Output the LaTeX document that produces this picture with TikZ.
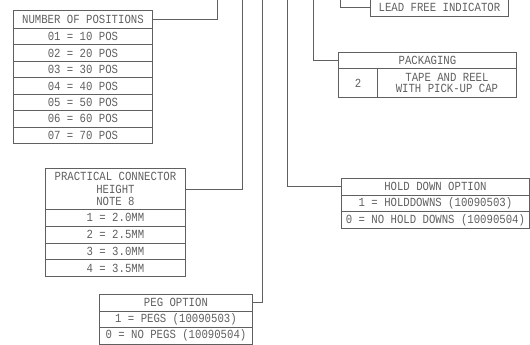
\documentclass[tikz,border=0pt]{standalone}
\usepackage{fontspec}
\setmonofont[FakeStretch=0.86]{Liberation Mono}
\definecolor{ln}{HTML}{606060}
\begin{document}
\begin{tikzpicture}[x=1pt,y=-1pt,
  cell/.style={draw=ln, line width=0.9pt, inner sep=0pt, anchor=north west,
    font=\ttfamily\fontsize{12.4}{12.5}\selectfont, text=ln, align=center},
  wire/.style={draw=ln, line width=0.8pt}]
\useasboundingbox (0,0) rectangle (530,345);
\clip (0,0) rectangle (530,345);
% top ends of the leader lines
\coordinate (t1) at (217,0);
\coordinate (t2) at (242,0);
\coordinate (t3) at (262,0);
\coordinate (t4) at (287,0);
\coordinate (t5) at (313,0);
\coordinate (t6) at (340,0);
% number of positions
\node[cell, minimum width=139pt, minimum height=18pt] (nop) at (13,10) {NUMBER OF POSITIONS};
\foreach \i/\t in {0/01 = 10 POS,1/02 = 20 POS,2/03 = 30 POS,3/04 = 40 POS,4/05 = 50 POS,5/06 = 60 POS,6/07 = 70 POS}
  \node[cell, minimum width=139pt, minimum height=16.43pt] (nop\i) at (13,28+16.43*\i) {\t};
% practical connector height
\node[cell, minimum width=140pt, minimum height=41pt] (pch) at (45,168) {PRACTICAL CONNECTOR\\HEIGHT\\NOTE 8};
\foreach \i/\t in {0/1 = 2.0MM,1/2 = 2.5MM,2/3 = 3.0MM,3/4 = 3.5MM}
  \node[cell, minimum width=140pt, minimum height=16.75pt] (pch\i) at (45,209+16.75*\i) {\t};
% peg option
\node[cell, minimum width=153pt, minimum height=16.5pt] (peg) at (99,294) {PEG OPTION};
\node[cell, minimum width=153pt, minimum height=16.5pt] (peg0) at (99,310.5) {1 = PEGS (10090503)};
\node[cell, minimum width=153pt, minimum height=16.5pt] (peg1) at (99,327) {0 = NO PEGS (10090504)};
% hold down option
\node[cell, minimum width=188pt, minimum height=16.7pt] (hd) at (341,178) {HOLD DOWN OPTION};
\node[cell, minimum width=188pt, minimum height=16.7pt] (hd0) at (341,194.7) {1 = HOLDDOWNS (10090503)};
\node[cell, minimum width=188pt, minimum height=16.7pt] (hd1) at (341,211.4) {0 = NO HOLD DOWNS (10090504)};
% packaging
\node[cell, minimum width=178pt, minimum height=16pt] (pk) at (338,52) {PACKAGING};
\node[cell, minimum width=39pt, minimum height=29pt] (pk0) at (338,68) {2};
\node[cell, minimum width=139pt, minimum height=29pt, font=\ttfamily\fontsize{12.4}{11}\selectfont] (pk1) at (377,68) {TAPE AND REEL\\WITH PICK-UP CAP};
% lead free indicator
\node[cell, minimum width=138pt, minimum height=18pt] (lf) at (370,-2) {LEAD FREE INDICATOR};
% leaders
\draw[wire] (nop.east) -| (t1);
\draw[wire] (pch.east) -| (t2);
\draw[wire] (peg.east) -| (t3);
\draw[wire] (t4) |- (hd.west);
\draw[wire] (t5) |- (pk.west);
\draw[wire] (t6) |- (lf.west);
\end{tikzpicture}
\end{document}
